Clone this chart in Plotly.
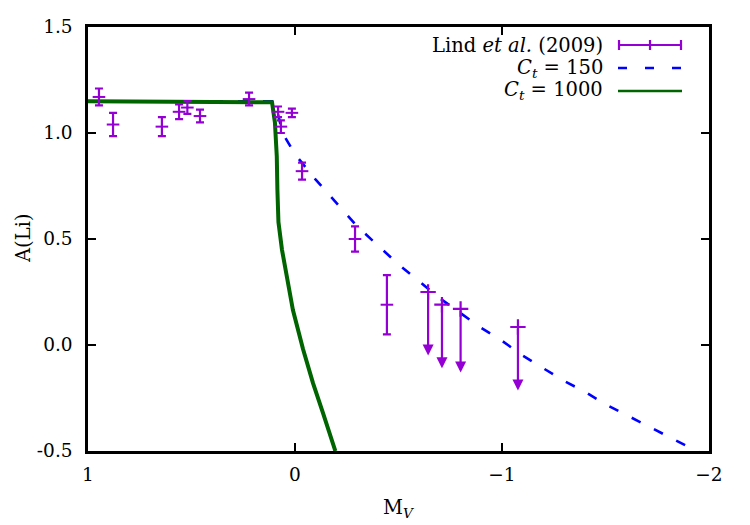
import plotly.graph_objects as go

# Lind et al. (2009) detections
lind_mv = [0.947, 0.879, 0.643, 0.56, 0.52, 0.459, 0.222, 0.082, 0.068, 0.015, -0.034, -0.29, -0.444]
lind_ali = [1.17, 1.04, 1.03, 1.10, 1.12, 1.08, 1.16, 1.10, 1.03, 1.095, 0.82, 0.50, 0.19]
lind_err = [0.04, 0.055, 0.045, 0.035, 0.03, 0.03, 0.03, 0.025, 0.03, 0.02, 0.04, 0.06, 0.14]

# Lind et al. (2009) upper limits
ul_mv = [-0.643, -0.71, -0.80, -1.077]
ul_ali = [0.25, 0.19, 0.17, 0.085]
ul_arrow = 0.30

# Model C_t = 150
c150_mv = [1.0, 0.1, 0.08, 0.06, 0.03, 0.0, -0.1, -0.2, -0.3, -0.4, -0.5, -0.6, -0.7, -0.8, -0.9,
           -1.0, -1.1, -1.2, -1.3, -1.4, -1.5, -1.6, -1.7, -1.8, -1.9, -1.95]
c150_ali = [1.15, 1.15, 1.08, 1.00, 0.95, 0.90, 0.78, 0.67, 0.56, 0.47, 0.38, 0.30, 0.22, 0.15, 0.08,
            0.02, -0.05, -0.11, -0.17, -0.22, -0.28, -0.33, -0.38, -0.43, -0.48, -0.505]

# Model C_t = 1000
c1000_mv = [1.0, 0.111, 0.097, 0.088, 0.085, 0.080, 0.063, 0.048, 0.010, -0.039, -0.087, -0.135, -0.195]
c1000_ali = [1.15, 1.145, 1.05, 0.89, 0.73, 0.58, 0.45, 0.37, 0.165, -0.02, -0.18, -0.32, -0.50]

x_ticks = [1, 0, -1, -2]
x_ticktext = ["1", "0", "\u22121", "\u22122"]
y_ticks = [1.5, 1.0, 0.5, 0.0, -0.5]
y_ticktext = ["1.5", "1.0", "0.5", "0.0", "-0.5"]

legend_labels = ["Lind <i>et al.</i> (2009)", "<i>C<sub>t</sub></i> = 150", "<i>C<sub>t</sub></i> = 1000"]

PURPLE = "#9400D3"
BLUE = "#0000FF"
GREEN = "#006400"
FONT = "DejaVu Serif"
DASH = "10px,15px"

fig = go.Figure()

fig.add_trace(go.Scatter(x=c150_mv, y=c150_ali, mode="lines",
                         line=dict(color=BLUE, width=2.6, dash=DASH), showlegend=False))
fig.add_trace(go.Scatter(x=c1000_mv, y=c1000_ali, mode="lines",
                         line=dict(color=GREEN, width=4), showlegend=False))
fig.add_trace(go.Scatter(x=lind_mv, y=lind_ali, mode="markers",
                         marker=dict(symbol="line-ew", size=9, color=PURPLE,
                                     line=dict(color=PURPLE, width=2)),
                         error_y=dict(type="data", array=lind_err, color=PURPLE, thickness=2.2, width=4),
                         showlegend=False))
fig.add_trace(go.Scatter(x=ul_mv, y=ul_ali, mode="markers",
                         marker=dict(symbol="cross-thin", size=11, color=PURPLE,
                                     line=dict(color=PURPLE, width=2.2)),
                         showlegend=False))

annotations = []
for xm, ym in zip(ul_mv, ul_ali):
    annotations.append(dict(x=xm, y=ym - ul_arrow, ax=xm, ay=ym, xref="x", yref="y",
                            axref="x", ayref="y", showarrow=True, arrowhead=2,
                            arrowsize=1.0, arrowwidth=2.2, arrowcolor=PURPLE, text=""))

# legend (text right-aligned, samples on the right)
L, R, T, B = 88, 709, 27, 451
def px(xp):
    return (xp - L) / (R - L)
def py(yp):
    return (B - yp) / (B - T)

leg_y = [45, 68, 91]
for lab, yy in zip(legend_labels, leg_y):
    annotations.append(dict(x=px(605), y=py(yy), xref="paper", yref="paper", text=lab,
                            showarrow=False, xanchor="right", yanchor="middle",
                            font=dict(family=FONT, size=19.5, color="black")))

# axis titles
annotations.append(dict(x=0.5, y=py(508), xref="paper", yref="paper", text="M<sub><i>V</i></sub>",
                        showarrow=False, xanchor="center", yanchor="middle",
                        font=dict(family=FONT, size=19.5, color="black")))
annotations.append(dict(x=px(23), y=0.5, xref="paper", yref="paper", text="A(Li)", textangle=-90,
                        showarrow=False, xanchor="center", yanchor="middle",
                        font=dict(family=FONT, size=19.5, color="black")))

shapes = []
# Lind sample
shapes.append(dict(type="line", xref="paper", yref="paper", x0=px(618), x1=px(682),
                   y0=py(45), y1=py(45), line=dict(color=PURPLE, width=2.2)))
for xx in (619, 650, 681):
    shapes.append(dict(type="line", xref="paper", yref="paper", x0=px(xx), x1=px(xx),
                       y0=py(40), y1=py(50), line=dict(color=PURPLE, width=2.2)))
shapes.append(dict(type="line", xref="paper", yref="paper", x0=px(618), x1=px(682),
                   y0=py(68), y1=py(68), line=dict(color=BLUE, width=2.6, dash="9px,18px")))
shapes.append(dict(type="line", xref="paper", yref="paper", x0=px(618), x1=px(682),
                   y0=py(91), y1=py(91), line=dict(color=GREEN, width=2.6)))

axis_common = dict(showline=True, linecolor="black", linewidth=2.5, mirror="ticks",
                   ticks="inside", ticklen=8, tickwidth=2, tickcolor="black",
                   showgrid=False, zeroline=False, automargin=False,
                   tickfont=dict(family=FONT, size=18.5, color="black"))

fig.update_xaxes(range=[1, -2], tickvals=x_ticks, ticktext=x_ticktext,
                 ticklabelstandoff=5, **axis_common)
fig.update_yaxes(range=[-0.5, 1.5], tickvals=y_ticks, ticktext=y_ticktext,
                 ticklabelstandoff=9, **axis_common)

fig.update_layout(width=750, height=525, margin=dict(l=L, r=750 - R, t=T, b=525 - B),
                  plot_bgcolor="white", paper_bgcolor="white",
                  font=dict(family=FONT),
                  annotations=annotations, shapes=shapes, showlegend=False)

fig.write_html("out.html")
